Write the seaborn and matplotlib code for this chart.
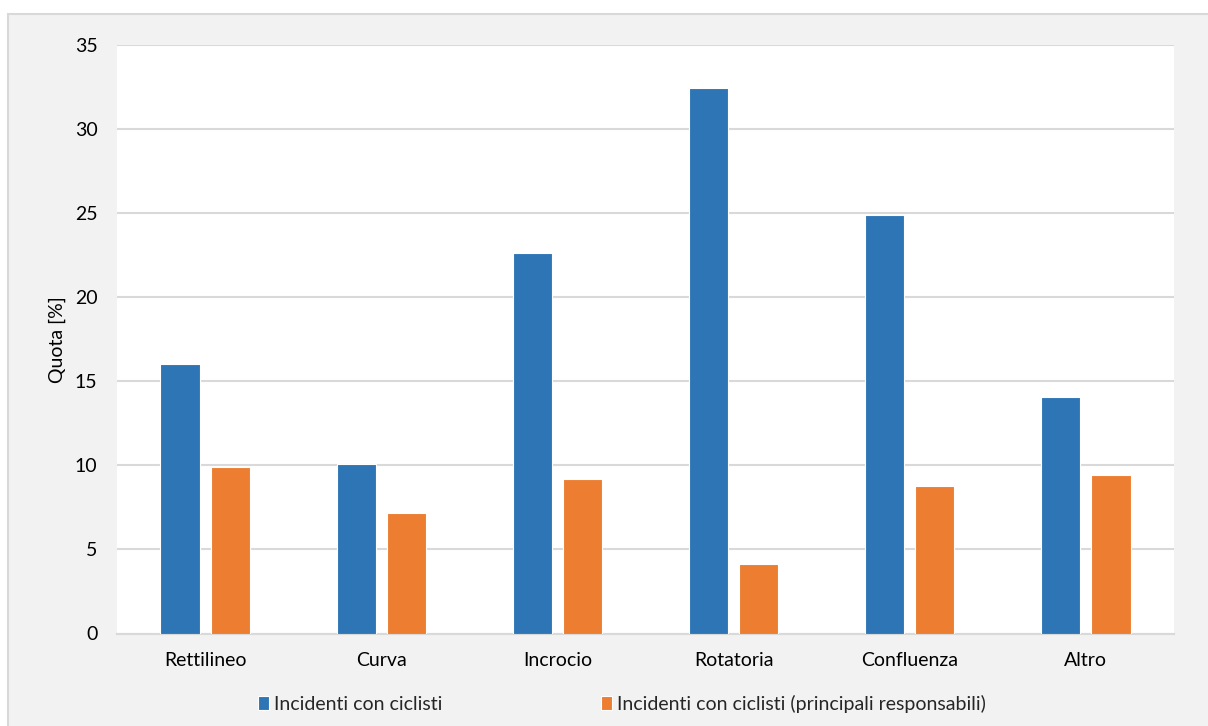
import matplotlib
matplotlib.use("Agg")
import matplotlib.pyplot as plt
from matplotlib.patches import Rectangle
import pandas as pd
import seaborn as sns

# Accident shares by road configuration
categories = ["Rettilineo", "Curva", "Incrocio", "Rotatoria", "Confluenza", "Altro"]
series_names = ["Incidenti con ciclisti",
                "Incidenti con ciclisti (principali responsabili)"]
incidenti_ciclisti = [16.05, 10.1, 22.6, 32.45, 24.9, 14.05]
incidenti_responsabili = [9.9, 7.15, 9.2, 4.15, 8.8, 9.4]
y_ticks = [0, 5, 10, 15, 20, 25, 30, 35]
y_label = "Quota [%]"

colors = ["#2E75B6", "#ED7D31"]

df = pd.DataFrame({
    "categoria": categories * 2,
    "serie": [series_names[0]] * len(categories) + [series_names[1]] * len(categories),
    "quota": incidenti_ciclisti + incidenti_responsabili,
})

sns.set_theme(style="white")
plt.rcParams["font.family"] = ["Lato", "DejaVu Sans"]

W, H = 1208, 726
fig = plt.figure(figsize=(W / 100, H / 100), dpi=100, facecolor="white")

# light grey chart panel with thin border, kept behind the axes
panel = Rectangle((8 / W, -0.01), 1.0, (H - 14) / H + 0.01,
                  transform=fig.transFigure, facecolor="#F2F2F2",
                  edgecolor="#D9D9D9", linewidth=1.5, zorder=-10)
fig.patches.append(panel)

ax = fig.add_axes([117 / W, 1 - 633.5 / H, (1174 - 117) / W, (633.5 - 45) / H])
ax.set_facecolor("white")

sns.barplot(data=df, x="categoria", y="quota", hue="serie", order=categories,
            hue_order=series_names, palette=colors, width=0.57, gap=0.22,
            edgecolor="white", linewidth=0.8, saturation=1, ax=ax)

ax.set_ylim(0, 35)
ax.set_xlim(-0.5, len(categories) - 0.5)
ax.set_yticks(y_ticks)
ax.set_yticklabels([str(t) for t in y_ticks])
ax.set_axisbelow(True)
ax.yaxis.grid(True, color="#D9D9D9", linewidth=1.5)
ax.xaxis.grid(False)
for side in ["left", "right", "top"]:
    ax.spines[side].set_visible(False)
ax.spines["bottom"].set_color("#D9D9D9")
ax.spines["bottom"].set_linewidth(1.5)
ax.spines["bottom"].set_zorder(0.5)

ax.tick_params(axis="both", length=0, labelsize=14, colors="black")
ax.tick_params(axis="x", pad=13.5)
ax.tick_params(axis="y", pad=14)
ax.set_xlabel("")
ax.set_ylabel(y_label, fontsize=14, labelpad=6, color="black")

handles, labels = ax.get_legend_handles_labels()
ax.get_legend().remove()
fig.legend(handles, labels, loc="center", bbox_to_anchor=(622 / W, 1 - 704 / H),
           ncol=2, frameon=False, fontsize=14,
           handlelength=0.55, handleheight=0.7, handletextpad=0.25,
           columnspacing=8.2)

fig.savefig("out.png", dpi=100, facecolor=fig.get_facecolor())
